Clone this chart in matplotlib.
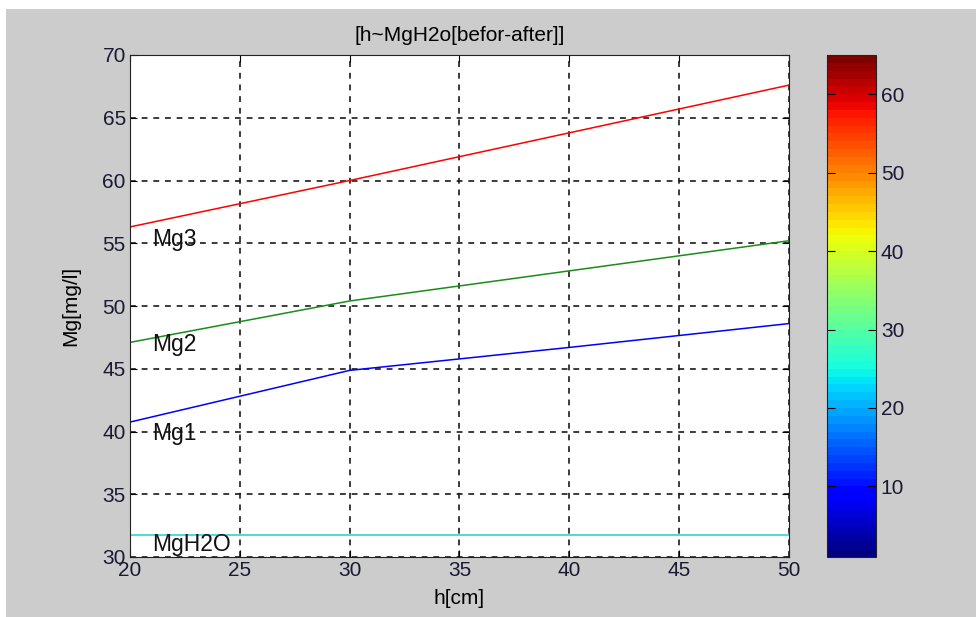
import matplotlib
matplotlib.use("Agg")
import matplotlib.pyplot as plt
from matplotlib.cm import ScalarMappable
from matplotlib.colors import Normalize
from matplotlib.patches import Rectangle

h = [20, 30, 40, 50]
mg1 = [40.75, 44.87, 46.7, 48.6]
mg2 = [47.1, 50.4, 52.8, 55.2]
mg3 = [56.3, 60.0, 63.8, 67.6]
mgh2o = [31.74, 31.74, 31.74, 31.74]

label_names = ['Mg3', 'Mg2', 'Mg1', 'MgH2O']
label_y = [55.3, 46.9, 39.85, 31.0]

plt.rcParams['font.family'] = ['Liberation Sans', 'DejaVu Sans']
plt.rcParams['font.size'] = 15

fig = plt.figure(figsize=(9.76, 6.17), dpi=100)
fig.patches.append(Rectangle((6 / 976, 0), 1, (617 - 9) / 617, transform=fig.transFigure,
                             facecolor='#cccccc', edgecolor='none', zorder=-10))

ax = fig.add_axes([130 / 976, 60 / 617, 659 / 976, 502 / 617])
ax.plot(h, mg1, color='blue', lw=1.1)
ax.plot(h, mg2, color='#1a8c1a', lw=1.1)
ax.plot(h, mg3, color='red', lw=1.1)
ax.plot(h, mgh2o, color='#20d0d0', lw=1.1)
for name, y in zip(label_names, label_y):
    ax.text(21, y, name, fontsize=16.5, va='center', ha='left', color='#111111')

ax.set_xlim(20, 50)
ax.set_ylim(30, 70)
ax.set_xticks(range(20, 51, 5))
ax.set_yticks(range(30, 71, 5))
ax.grid(True, color='#1a1a1a', linestyle=(0, (3.5, 3.5)), linewidth=1.2)
ax.tick_params(direction='in', top=True, right=True, length=5, labelsize=15, pad=3,
               labelcolor='#1a1a33')
ax.set_xlabel('h[cm]', fontsize=15, labelpad=6)
ax.set_ylabel('Mg[mg/l]', fontsize=15, labelpad=16)
ax.set_title('[h~MgH2o[befor-after]]', fontsize=15, pad=10)
for s in ax.spines.values():
    s.set_color('#222222')

cax = fig.add_axes([827 / 976, 60 / 617, 49 / 976, 502 / 617])
sm = ScalarMappable(norm=Normalize(1, 65), cmap=plt.get_cmap('jet', 64))
cb = fig.colorbar(sm, cax=cax, ticks=[10, 20, 30, 40, 50, 60])
cb.outline.set_edgecolor('#222222')
cax.tick_params(direction='in', left=True, right=True, length=6, labelsize=15,
                labelcolor='#1a1a33')

fig.savefig('out.png', dpi=100)
